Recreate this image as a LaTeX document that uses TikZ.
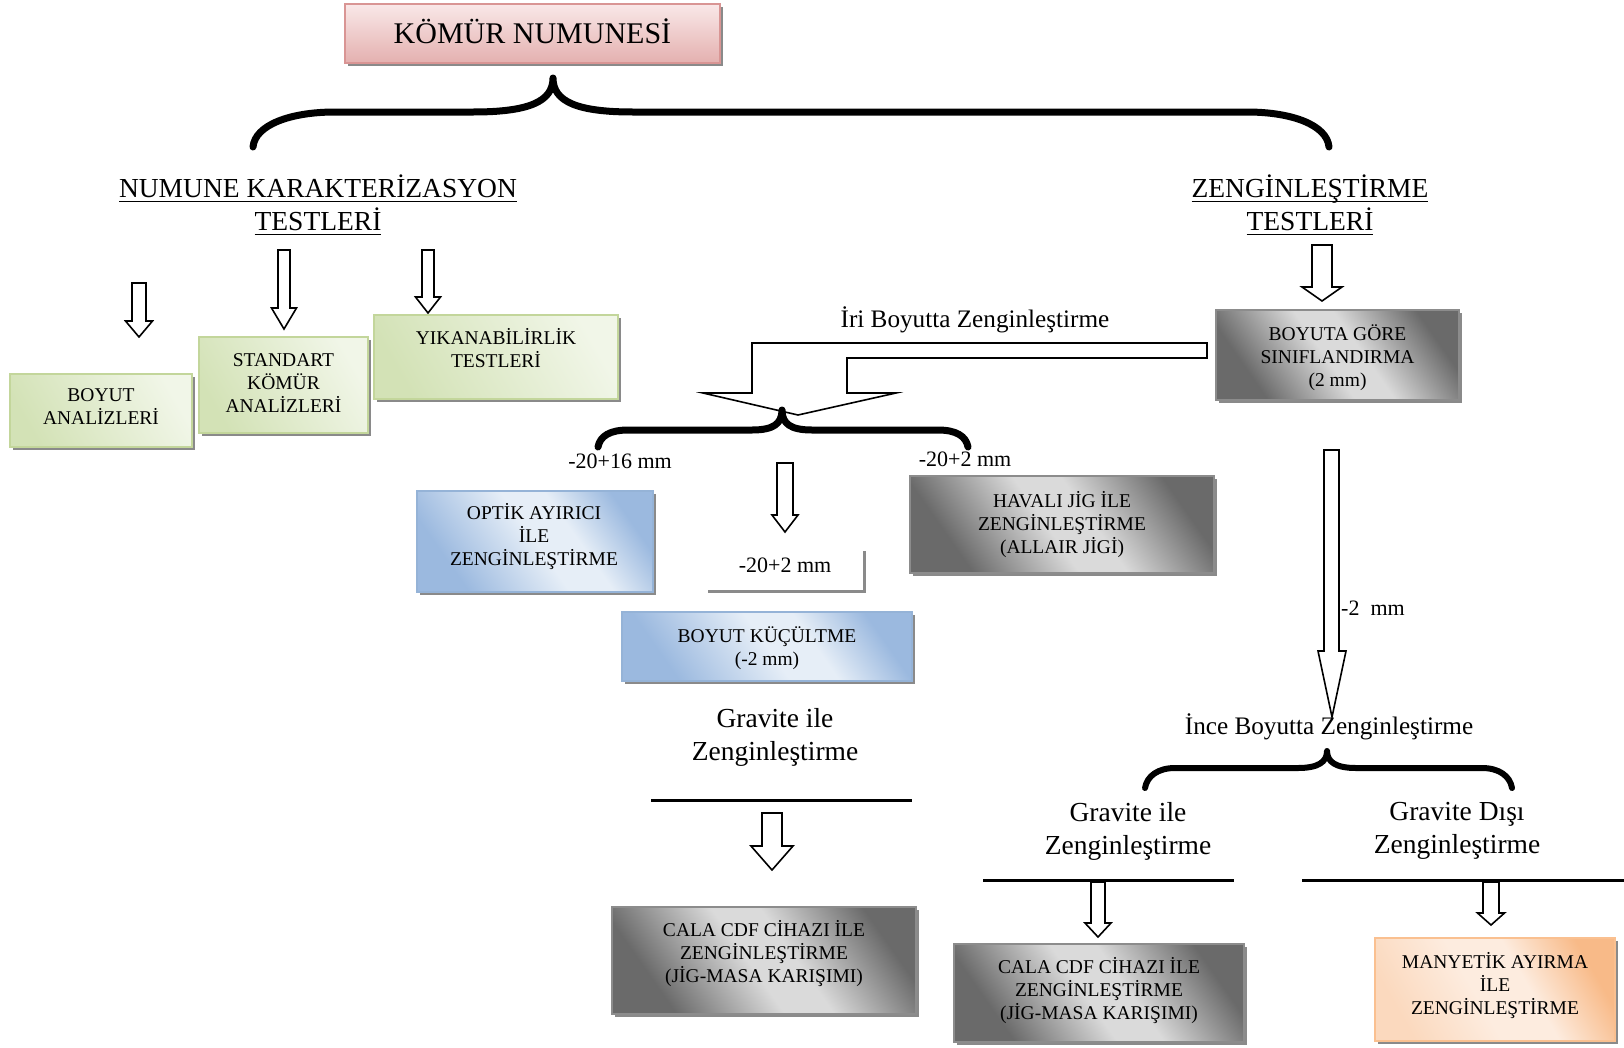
\documentclass[tikz,border=0pt]{standalone}
\usepackage{fontspec}
\setmainfont{Liberation Serif}
\usetikzlibrary{shadows}

\definecolor{pinkB}{HTML}{D99594}
\definecolor{pinkT}{HTML}{F9E8E8}
\definecolor{pinkD}{HTML}{E4B0AF}
\definecolor{greenB}{HTML}{C3D69B}
\definecolor{greenL}{HTML}{F1F6E8}
\definecolor{greenD}{HTML}{D3E2B6}
\definecolor{blueB}{HTML}{95B3D7}
\definecolor{blueL}{HTML}{E6EEF7}
\definecolor{blueD}{HTML}{9BB9DF}
\definecolor{grayB}{HTML}{8C8C8C}
\definecolor{grayL}{HTML}{DADADA}
\definecolor{grayD}{HTML}{6A6A6A}
\definecolor{orangeB}{HTML}{FAC090}
\definecolor{orangeL}{HTML}{FDECDF}
\definecolor{orangeM}{HTML}{FBD9BE}
\definecolor{orangeD}{HTML}{F8BA88}
\definecolor{shadowc}{HTML}{8A8A8A}

\pgfdeclarehorizontalshading{grayshade}{100bp}{color(0bp)=(grayD); color(27bp)=(grayD); color(47bp)=(grayL); color(56bp)=(grayL); color(75bp)=(grayD); color(100bp)=(grayD)}
\pgfdeclarehorizontalshading{blueshade}{100bp}{color(0bp)=(blueD); color(27bp)=(blueD); color(50bp)=(blueL); color(60bp)=(blueL); color(75bp)=(blueD); color(100bp)=(blueD)}
\pgfdeclarehorizontalshading{greenshade}{100bp}{color(0bp)=(greenD); color(25bp)=(greenD); color(75bp)=(greenL); color(100bp)=(greenL)}
\pgfdeclarehorizontalshading{orangeshade}{100bp}{color(0bp)=(orangeM); color(25bp)=(orangeM); color(45bp)=(orangeL); color(58bp)=(orangeL); color(75bp)=(orangeD); color(100bp)=(orangeD)}

\newcommand{\ulx}[1]{{\setbox0\hbox{#1}\rlap{\rule[-4.5pt]{\wd0}{1.6pt}}\box0}}
\newcommand{\blockarrow}[6]{\draw[barrow] ({#1-#4/2},#2) -- ({#1+#4/2},#2) -- ({#1+#4/2},{#3-#6}) -- ({#1+#5/2},{#3-#6}) -- (#1,#3) -- ({#1-#5/2},{#3-#6}) -- ({#1-#4/2},{#3-#6}) -- cycle;}

\tikzset{
  barrow/.style={draw=black, line width=1.6pt, fill=white, line join=miter},
  bracel/.style={line width=7pt, line cap=round, line join=round},
  bx/.style={rectangle, inner sep=0pt, line width=1.8pt,
    drop shadow={shadow xshift=3pt, shadow yshift=-3pt, fill=shadowc, opacity=1}},
  pinkbox/.style={bx, draw=pinkB, top color=pinkT, bottom color=pinkD},
  greenbox/.style={bx, draw=greenB, shading=greenshade, shading angle=30},
  bluebox/.style={bx, draw=blueB, shading=blueshade, shading angle=35},
  graybox/.style={bx, draw=grayB, line width=1.2pt, shading=grayshade, shading angle=35},
  orangebox/.style={bx, draw=orangeB, shading=orangeshade, shading angle=30},
  btxt/.style={align=center, inner sep=0pt, font=\fontsize{19.5}{23}\selectfont},
  htxt/.style={align=center, inner sep=0pt, font=\fontsize{27.5}{33}\selectfont},
  mtxt/.style={align=center, inner sep=0pt, font=\fontsize{25.2}{30}\selectfont},
  stxt/.style={inner sep=0pt, font=\fontsize{22}{26}\selectfont},
  hline/.style={line width=3pt},
}

\begin{document}
\begin{tikzpicture}[x=1pt, y=-1pt]
\fill[white] (0,0) rectangle (1624,1047);
\useasboundingbox (0,0) rectangle (1624,1047);

% root
\node[pinkbox, minimum width=375pt, minimum height=59pt, font=\fontsize{30}{36}\selectfont] (root) at (532.5,33.5) {};
\node[inner sep=0pt, font=\fontsize{30}{36}\selectfont] (roott) at (532.5,31.5) {KÖMÜR NUMUNESİ};

% top brace
\draw[bracel] (253,147) .. controls (255,125) and (290,112) .. (335,112) -- (473,112)
  .. controls (528,112) and (553,102) .. (553,78)
  .. controls (553,102) and (578,112) .. (633,112) -- (1247,112)
  .. controls (1292,112) and (1327,125) .. (1329,147);

% headings
\node[htxt] (nkt) at (318,205) {\ulx{NUMUNE KARAKTERİZASYON}\\\ulx{TESTLERİ}};
\node[htxt] (zt) at (1310,205) {\ulx{ZENGİNLEŞTİRME}\\\ulx{TESTLERİ}};

% small arrows
\blockarrow{139}{283}{337}{14}{27}{16}
\blockarrow{284}{250}{329}{12}{25}{21}
\blockarrow{428}{250}{313}{12}{25}{16}
\blockarrow{1322}{245}{301}{20}{40}{14}

% green boxes
\node[greenbox, minimum width=182pt, minimum height=73pt] (boyut) at (101,410.5) {};
\node[btxt] (boyutt) at (101,407) {BOYUT\\ANALİZLERİ};
\node[greenbox, minimum width=169pt, minimum height=96pt] (std) at (283.5,385) {};
\node[btxt] (stdt) at (283.5,383) {STANDART\\KÖMÜR\\ANALİZLERİ};
\node[greenbox, minimum width=244pt, minimum height=84pt] (yik) at (496,357) {};
\node[btxt] (yikt) at (496,348) {YIKANABİLİRLİK\\TESTLERİ};

% sizing box
\node[graybox, minimum width=243pt, minimum height=90pt] (siz) at (1337.5,355) {};
\node[btxt] (sizt) at (1337.5,358) {BOYUTA GÖRE\\SINIFLANDIRMA\\(2 mm)};

% bent arrow
\draw[barrow] (1207,343) -- (752,343) -- (752,393) -- (703,393) -- (798,415) -- (896,393) -- (847,393) -- (847,358) -- (1207,358) -- cycle;
\node[mtxt] (iri) at (975,320) {İri Boyutta Zenginleştirme};

% middle brace
\draw[bracel] (598,447) .. controls (600,436) and (610,430) .. (628,430) -- (752,430)
  .. controls (773,430) and (782,424) .. (782,410)
  .. controls (782,424) and (791,430) .. (812,430) -- (938,430)
  .. controls (956,430) and (966,436) .. (968,447);
\node[stxt] (l1) at (620,461) {-20+16 mm};
\node[stxt] (l2) at (965,459) {-20+2 mm};

\blockarrow{785}{463}{532}{16}{26}{17}

% optical, air jig
\node[bluebox, minimum width=236pt, minimum height=101pt] (opt) at (535,541.5) {};
\node[btxt] (optt) at (534,537) {OPTİK AYIRICI\\İLE\\ZENGİNLEŞTİRME};
\node[graybox, minimum width=304pt, minimum height=97pt] (hav) at (1062,524.5) {};
\node[btxt] (havt) at (1062,525) {HAVALI JİG İLE\\ZENGİNLEŞTİRME\\(ALLAIR JİGİ)};

% open box
\node[bx, fill=white, draw=none, minimum width=158pt, minimum height=42pt] (ob) at (784,569) {};
\node[stxt] (obt) at (785,565) {-20+2 mm};

% size reduction
\node[bluebox, minimum width=290pt, minimum height=69pt] (kuc) at (767,646.5) {};
\node[btxt] (kuct) at (767,648) {BOYUT KÜÇÜLTME\\(-2 mm)};

% gravity mid
\node[htxt] (gm) at (775,737) {Gravite ile\\Zenginleştirme};
\draw[hline] (651,800) -- (912,800);
\blockarrow{772}{813}{870}{20}{42}{24}
\node[graybox, minimum width=304pt, minimum height=107pt] (cala1) at (764,960.5) {};
\node[btxt] (cala1t) at (764,954) {CALA CDF CİHAZI İLE\\ZENGİNLEŞTİRME\\(JİG-MASA KARIŞIMI)};

% long arrow
\draw[barrow] (1324,450) -- (1339,450) -- (1339,651) -- (1346,651) -- (1332,717) -- (1318,651) -- (1324,651) -- cycle;
\node[stxt, anchor=west] (l3) at (1341,608) {-2\ \ mm};

% fine
\node[mtxt] (ince) at (1329,727) {İnce Boyutta Zenginleştirme};
\draw[bracel, line width=6pt] (1145,788) .. controls (1147,776) and (1158,768) .. (1175,768) -- (1298,768)
  .. controls (1318,768) and (1327,762) .. (1327,751)
  .. controls (1327,762) and (1336,768) .. (1356,768) -- (1482,768)
  .. controls (1499,768) and (1510,776) .. (1512,788);

\node[htxt] (gr) at (1128,831) {Gravite ile\\Zenginleştirme};
\node[htxt] (gd) at (1457,831) {Gravite Dışı\\Zenginleştirme};
\draw[hline] (983,880) -- (1234,880);
\draw[hline] (1302,880) -- (1624,880);
\blockarrow{1098}{882}{937}{14}{26}{14}
\blockarrow{1491}{882}{925}{16}{27}{12}

\node[graybox, minimum width=290pt, minimum height=98pt] (cala2) at (1099,993) {};
\node[btxt] (cala2t) at (1099,991) {CALA CDF CİHAZI İLE\\ZENGİNLEŞTİRME\\(JİG-MASA KARIŞIMI)};
\node[orangebox, minimum width=240pt, minimum height=103pt] (man) at (1495,989.5) {};
\node[btxt] (mant) at (1495,986) {MANYETİK AYIRMA\\İLE\\ZENGİNLEŞTİRME};
\end{tikzpicture}
\end{document}
